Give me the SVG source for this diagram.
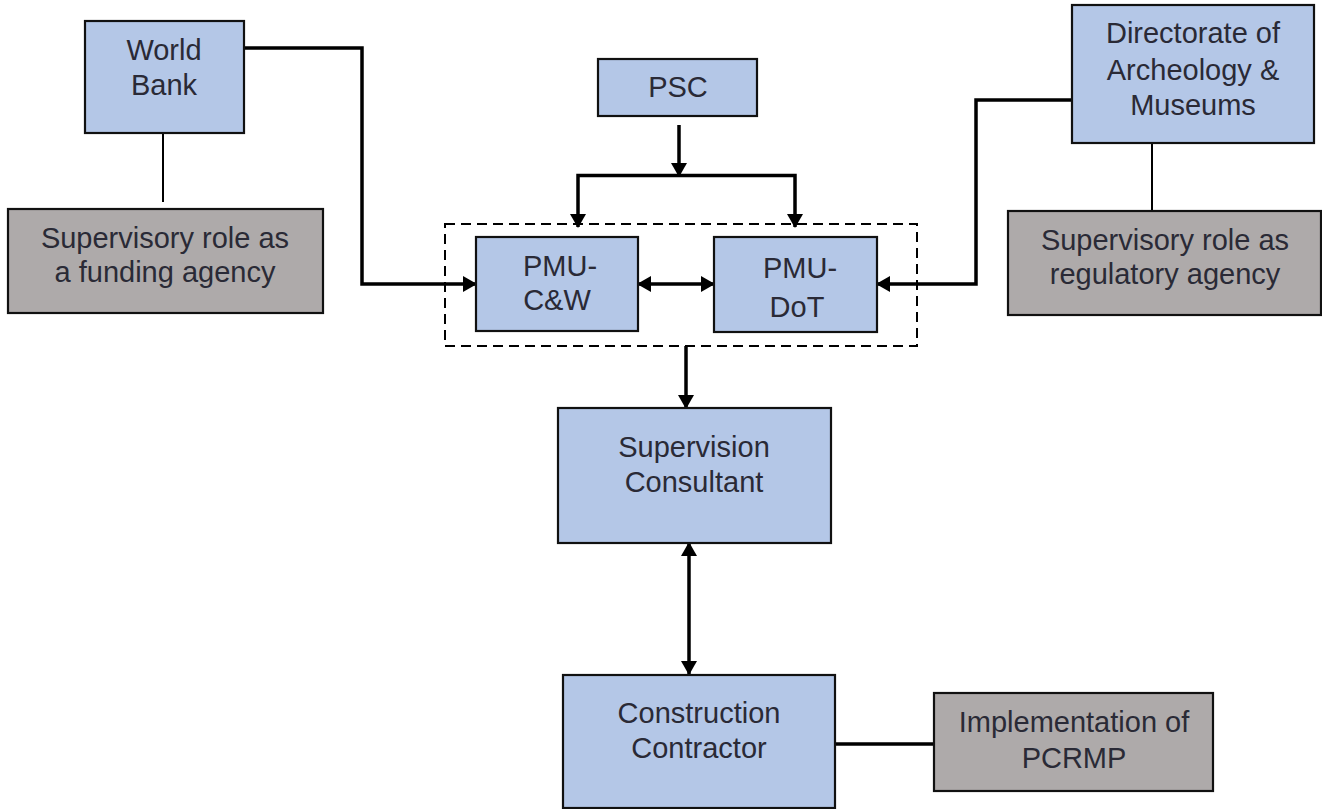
<svg xmlns="http://www.w3.org/2000/svg" width="1322" height="809" viewBox="0 0 1322 809">
<style>
  .blue { fill: #B4C7E7; stroke: #111; stroke-width: 2.2; }
  .gray { fill: #AEAAAA; stroke: #111; stroke-width: 2.2; }
  .t { font-family: "Liberation Sans", Arial, sans-serif; font-size: 29px; fill: #2A2A36; text-anchor: middle; }
  .thick { fill: none; stroke: #000; stroke-width: 3.5; }
  .thin { fill: none; stroke: #000; stroke-width: 2; }
  .dash { fill: none; stroke: #000; stroke-width: 2; stroke-dasharray: 10 6; }
</style>
<defs>
  <marker id="ah" markerUnits="userSpaceOnUse" markerWidth="14" markerHeight="16" refX="13" refY="8" orient="auto-start-reverse" viewBox="0 0 14 16">
    <path d="M0,0 L14,8 L0,16 z" fill="#000"/>
  </marker>
</defs>
<rect width="1322" height="809" fill="#fff"/>

<g id="connectors">
  <rect class="dash" x="445" y="224" width="472" height="122"/>
  <polyline class="thick" points="244,48 362,48 362,284 476,284" marker-end="url(#ah)"/>
  <polyline class="thick" points="1072,100 976,100 976,284 877,284" marker-end="url(#ah)"/>
  <line class="thick" x1="679" y1="125" x2="679" y2="176" marker-end="url(#ah)"/>
  <polyline class="thick" points="578,227 578,175.5 795,175.5 795,227" marker-start="url(#ah)" marker-end="url(#ah)"/>
  <line class="thick" x1="638" y1="284" x2="714" y2="284" marker-start="url(#ah)" marker-end="url(#ah)"/>
  <line class="thick" x1="686" y1="346" x2="686" y2="408" marker-end="url(#ah)"/>
  <line class="thick" x1="689" y1="543" x2="689" y2="674" marker-start="url(#ah)" marker-end="url(#ah)"/>
  <line class="thin" x1="163" y1="133" x2="163" y2="202"/>
  <line class="thin" x1="1152" y1="143" x2="1152" y2="211"/>
  <line class="thick" x1="835" y1="744" x2="934" y2="744"/>
</g>

<g id="world-bank">
  <rect class="blue" x="85" y="21" width="159" height="112"/>
  <text class="t" x="164" y="60">World</text>
  <text class="t" x="164" y="95">Bank</text>
</g>
<g id="wb-role">
  <rect class="gray" x="8" y="209" width="315" height="104"/>
  <text class="t" x="165" y="248">Supervisory role as</text>
  <text class="t" x="165" y="282">a funding agency</text>
</g>
<g id="psc">
  <rect class="blue" x="598" y="59" width="159" height="57"/>
  <text class="t" x="678" y="97">PSC</text>
</g>
<g id="pmu-cw">
  <rect class="blue" x="476" y="237" width="162" height="94"/>
  <text class="t" x="560" y="276">PMU-</text>
  <text class="t" x="557" y="310">C&amp;W</text>
</g>
<g id="pmu-dot">
  <rect class="blue" x="714" y="237" width="163" height="95"/>
  <text class="t" x="800" y="278">PMU-</text>
  <text class="t" x="797" y="317">DoT</text>
</g>
<g id="directorate">
  <rect class="blue" x="1072" y="5" width="242" height="138"/>
  <text class="t" x="1193" y="43">Directorate of</text>
  <text class="t" x="1193" y="80">Archeology &amp;</text>
  <text class="t" x="1193" y="115">Museums</text>
</g>
<g id="dam-role">
  <rect class="gray" x="1008" y="211" width="313" height="104"/>
  <text class="t" x="1165" y="250">Supervisory role as</text>
  <text class="t" x="1165" y="284">regulatory agency</text>
</g>
<g id="supervision-consultant">
  <rect class="blue" x="558" y="408" width="273" height="135"/>
  <text class="t" x="694" y="457">Supervision</text>
  <text class="t" x="694" y="492">Consultant</text>
</g>
<g id="construction-contractor">
  <rect class="blue" x="563" y="675" width="272" height="133"/>
  <text class="t" x="699" y="723">Construction</text>
  <text class="t" x="699" y="758">Contractor</text>
</g>
<g id="implementation">
  <rect class="gray" x="934" y="693" width="279" height="98"/>
  <text class="t" x="1074" y="732">Implementation of</text>
  <text class="t" x="1074" y="768">PCRMP</text>
</g>
</svg>
